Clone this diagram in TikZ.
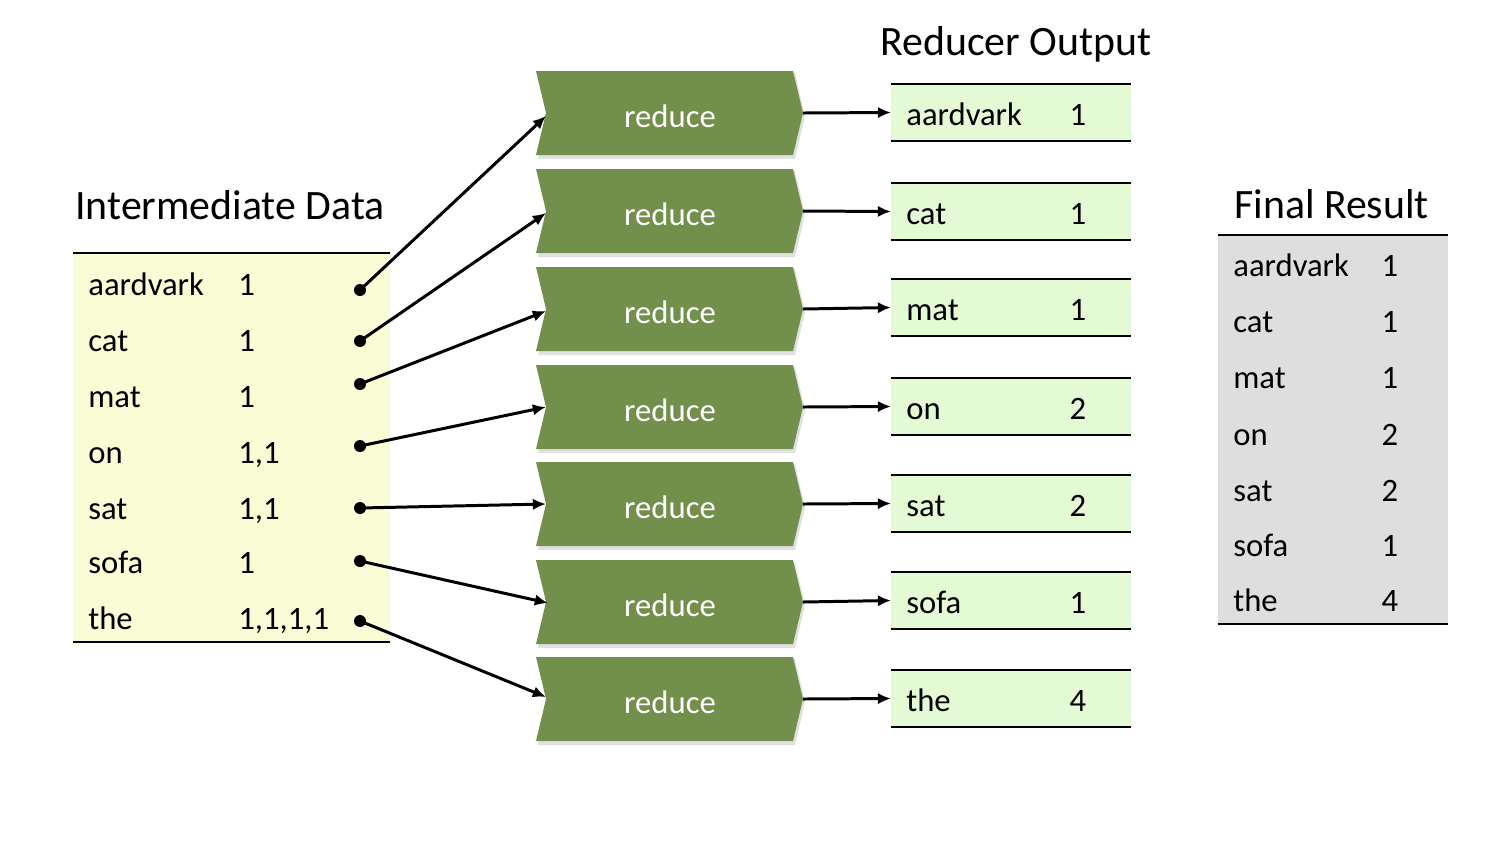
\documentclass[tikz,border=0pt]{standalone}
\usepackage{fontspec}
\setmainfont{Carlito}
\usetikzlibrary{arrows.meta}
\definecolor{chev}{RGB}{114,143,76}
\definecolor{ylw}{RGB}{249,252,212}
\definecolor{grn}{RGB}{227,250,213}
\definecolor{gry}{RGB}{222,222,222}
\tikzset{
  body/.style={anchor=base west, inner sep=0pt, font=\fontsize{18.6}{20}\selectfont},
  val/.style={anchor=base, inner sep=0pt, font=\fontsize{18.6}{20}\selectfont},
  ttl/.style={anchor=base west, inner sep=0pt, font=\fontsize{23.8}{26}\selectfont},
  red/.style={inner sep=0pt, text=white, font=\fontsize{18.6}{20}\selectfont},
  dot/.style={circle, fill=black, inner sep=0pt, minimum size=0.24cm},
  arr/.style={line width=1.7pt, -{Latex[length=7.5pt,width=6.5pt]}},
  rule/.style={line width=1.3pt},
}
\begin{document}
\begin{tikzpicture}[x=0.02cm,y=-0.02cm]
\useasboundingbox (0,0) rectangle (1500,860);
% Intermediate data
\node[ttl] (tInt) at (75,219) {Intermediate Data};
\fill[ylw] (73,253) rectangle (390,642);
\draw[rule] (73,253) -- (390,253);
\draw[rule] (73,642) -- (390,642);
\foreach \w/\v/\y [count=\i] in {aardvark/1/285,cat/1/341,mat/1/397,on/{1,1}/453,sat/{1,1}/509,sofa/1/563,the/{1,1,1,1}/619}{
  \node[body] (iw\i) at (88,\y+10) {\w};
  \node[body] (iv\i) at (238,\y+10) {\v};
}
\foreach \y [count=\i] in {290,341,384,446,508,561,621}{
  \node[dot] (d\i) at (360,\y) {};
}
% Reducers
\foreach \y [count=\i] in {113,211,309,407,504,602,699}{
  \fill[black!20, opacity=0.6] (538,\y-40) -- (795,\y-40) -- (805,\y+3) -- (795,\y+46) -- (538,\y+46) -- (548,\y+3) -- cycle;
  \fill[chev] (536,\y-42) -- (793,\y-42) -- (803,\y) -- (793,\y+42) -- (536,\y+42) -- (546,\y) -- cycle;
  \node[red] (r\i) at (670,\y+3) {reduce};
  \coordinate (rw\i) at (546,\y);
  \coordinate (re\i) at (803,\y);
}
% Reducer output
\node[ttl] (tRed) at (880,55) {Reducer Output};
\foreach \w/\v/\t [count=\i] in {aardvark/1/84,cat/1/183,mat/1/279,on/2/378,sat/2/475,sofa/1/572,the/4/670}{
  \fill[grn] (891,\t) rectangle (1131,\t+57);
  \draw[rule] (891,\t) -- (1131,\t);
  \draw[rule] (891,\t+57) -- (1131,\t+57);
  \coordinate (ow\i) at (891,\t+28.5);
  \node[body] (oword\i) at (906,\t+28.5+13) {\w};
  \node[val] (oval\i) at (1078,\t+28.5+13) {\v};
}
% Final result
\node[ttl] (tFin) at (1234,218) {Final Result};
\fill[gry] (1218,235) rectangle (1448,624);
\draw[rule] (1218,235) -- (1448,235);
\draw[rule] (1218,624) -- (1448,624);
\foreach \w/\v/\y [count=\i] in {aardvark/1/265,cat/1/321,mat/1/377,on/2/434,sat/2/490,sofa/1/545,the/4/600}{
  \node[body] (fw\i) at (1233,\y+11) {\w};
  \node[val] (fv\i) at (1390,\y+11) {\v};
}
% Arrows dots -> reducers
\draw[arr] (d1.center) -- (546,116);
\draw[arr] (d2.center) -- (546,213);
\draw[arr] (d3.center) -- (546,311);
\draw[arr] (d4.center) -- (546,407);
\draw[arr] (d5.center) -- (546,504);
\draw[arr] (d6.center) -- (548,603);
\draw[arr] (d7.center) -- (546,697);
% Arrows reducers -> output
\foreach \i in {1,...,7}{
  \draw[arr] (re\i) -- (ow\i);
}
\end{tikzpicture}
\end{document}
